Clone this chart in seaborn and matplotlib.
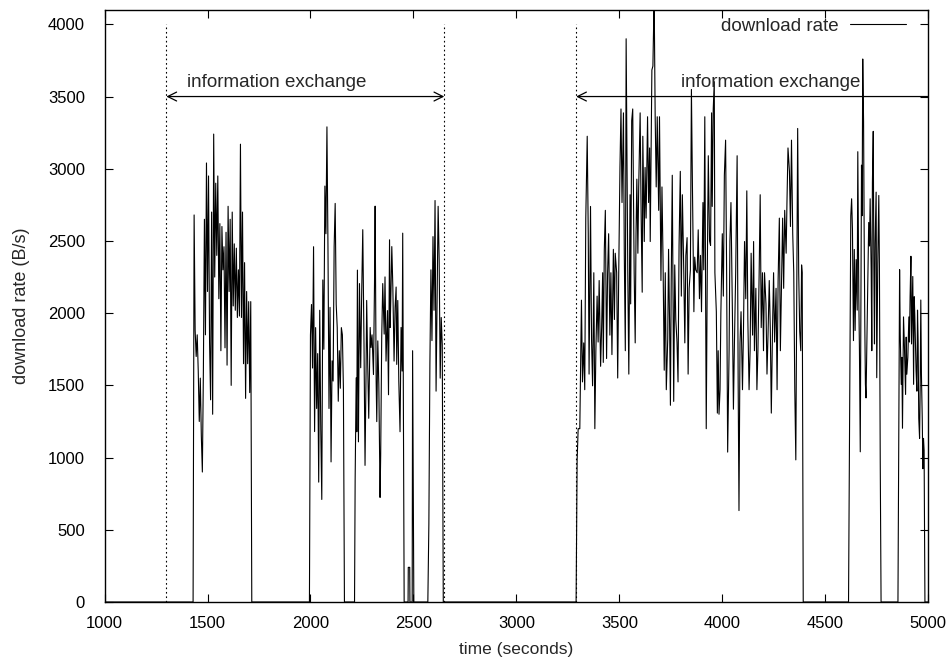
import numpy as np
import pandas as pd
import matplotlib
matplotlib.use("Agg")
import matplotlib.pyplot as plt
import seaborn as sns

# ---------------- data ----------------
idle_t = [1000, 1430]
idle_v = [0, 0]

seg_a_t = [1435, 1440, 1445, 1450, 1455, 1460, 1465, 1470, 1475, 1480, 1485, 1490, 1495,
           1500, 1505, 1510, 1515, 1520, 1525, 1530, 1535, 1540, 1545, 1550, 1555, 1560,
           1565, 1570, 1575, 1580, 1585, 1590, 1595, 1600, 1605, 1610, 1615, 1620, 1625,
           1630, 1635, 1640, 1645, 1650, 1655, 1660, 1665, 1670, 1675, 1680, 1685, 1690,
           1695, 1700, 1705, 1710, 1715]
seg_a_v = [2680, 1880, 1700, 1850, 1600, 1250, 1550, 1150, 900, 1600, 2650, 1850, 3040,
           2150, 2950, 1800, 1400, 2700, 1300, 3240, 2250, 2900, 2400, 2950, 2100, 2620,
           1740, 2600, 2300, 2460, 1760, 2560, 1640, 2740, 2150, 2650, 1500, 2700, 2050,
           2480, 2020, 2450, 1970, 2300, 1980, 3170, 1970, 2700, 1650, 2350, 1410, 2150,
           1650, 2080, 1450, 2080, 0]

seg_b_t = [1995, 2000, 2005, 2010, 2015, 2020, 2025, 2030, 2035, 2040, 2045, 2050, 2055,
           2060, 2065, 2070, 2075, 2080, 2085, 2090, 2095, 2100, 2105, 2110, 2115, 2120,
           2125, 2130, 2135, 2140, 2145, 2150, 2155, 2160, 2165]
seg_b_v = [0, 1850, 2060, 1620, 2460, 1180, 1900, 1340, 1720, 830, 2020, 1200, 710,
           2230, 1750, 2880, 2550, 3290, 2460, 1340, 2040, 970, 1670, 1530, 2460, 2760,
           2060, 1900, 1390, 1740, 1480, 1900, 1850, 1480, 0]

seg_c_t = [2214, 2217, 2222, 2225, 2228, 2233, 2238, 2244, 2249, 2254, 2260, 2265, 2270,
           2273, 2278, 2283, 2290, 2294, 2299, 2306, 2311, 2314, 2319, 2322, 2327, 2332,
           2338, 2341, 2346, 2351, 2358, 2362, 2367, 2374, 2379, 2384, 2387, 2390, 2395,
           2400, 2406, 2411, 2416, 2419, 2424, 2429, 2435, 2440, 2445, 2448, 2455,
           2474, 2475, 2482, 2483, 2494, 2496, 2502]
seg_c_v = [0, 850, 1552, 1179, 2298, 1109, 2205, 1622, 2158, 2578, 1785, 946, 1599,
           2088, 1645, 1272, 1901, 1762, 1850, 1575, 2205, 2741, 1529, 1249, 1808, 1505,
           724, 1016, 1831, 2205, 1855, 2251, 1668, 2018, 1435, 2508, 1901, 2088, 2461,
           2181, 1668, 2041, 2181, 1645, 2088, 1529, 1179, 1901, 1599, 2554, 0,
           0, 240, 240, 0, 0, 1740, 0]

seg_d_t = [2570, 2575, 2580, 2585, 2590, 2595, 2600, 2605, 2610, 2615, 2620, 2625, 2630,
           2635, 2640, 2645]
seg_d_v = [0, 540, 1650, 2300, 1810, 2530, 2020, 2780, 1460, 2110, 2740, 2370, 1550,
           1970, 1780, 0]

seg_e_t = [3290, 3295, 3300, 3308, 3316, 3321, 3327, 3332, 3337, 3344, 3349, 3353, 3360,
           3365, 3370, 3376, 3381, 3386, 3392, 3397, 3402, 3409, 3414, 3419, 3422, 3427,
           3432, 3438, 3443, 3448, 3454, 3459, 3464, 3471, 3476, 3480, 3487, 3492, 3497,
           3503, 3508, 3513, 3520, 3524, 3529, 3533, 3536, 3541, 3546, 3552, 3555, 3560,
           3565, 3572, 3577, 3581, 3585, 3590, 3594, 3601, 3606, 3611, 3614, 3621, 3625,
           3630, 3637, 3642, 3647, 3650, 3658, 3663, 3669, 3674, 3679, 3684, 3691, 3695,
           3702, 3707, 3712, 3718, 3723, 3728, 3735, 3739, 3744, 3748, 3752, 3757, 3764,
           3769, 3774, 3780, 3785, 3790, 3796, 3801, 3806, 3813, 3818, 3823, 3829, 3834,
           3839, 3845, 3850, 3855, 3862, 3866, 3871, 3878, 3883, 3889, 3894, 3899, 3906,
           3910, 3915, 3922, 3927, 3932, 3938, 3943, 3948, 3951, 3956, 3961, 3964, 3971,
           3976, 3980, 3984, 3989, 3993, 4000, 4005, 4010, 4016, 4021, 4026, 4033, 4037,
           4042, 4049, 4054, 4059, 4065, 4072, 4077, 4081, 4086, 4091, 4098, 4103, 4108,
           4114, 4119, 4124, 4130, 4135, 4140, 4147, 4152, 4156, 4163, 4168, 4173, 4179,
           4184, 4189, 4195, 4200, 4205, 4212, 4217, 4222, 4228, 4233, 4238, 4244, 4249,
           4254, 4261, 4266, 4271, 4277, 4282, 4287, 4293, 4298, 4303, 4310, 4314, 4319,
           4326, 4331, 4336, 4342, 4347, 4352, 4357, 4362, 4366, 4371, 4376, 4381, 4385,
           4388, 4393]
seg_e_v = [0, 980, 1200, 1200, 2090, 1524, 1794, 1470, 2658, 3225, 2550, 1578, 2739,
           1821, 1497, 2280, 1200, 1740, 2118, 1800, 2226, 1632, 1901, 2280, 1659, 2442,
           2712, 1686, 2280, 2550, 1848, 2280, 1713, 2442, 1956, 2415, 2280, 1551, 2280,
           3009, 3414, 2766, 3387, 2415, 1740, 3900, 3306, 2280, 1578, 2820, 2064, 3333,
           3414, 2280, 1794, 2550, 2928, 2415, 2874, 3387, 2658, 2145, 3225, 2496, 3009,
           2658, 3360, 2766, 3144, 2496, 3684, 3711, 4200, 3360, 2874, 3360, 2712, 3360,
           2226, 2874, 2388, 1605, 2280, 1470, 1821, 2442, 1929, 1362, 2226, 2955, 1389,
           2334, 1956, 1800, 1524, 2469, 2982, 2118, 2820, 2280, 1794, 2400, 2523, 1578,
           2172, 2300, 3549, 2874, 2010, 2388, 2300, 2280, 2577, 2100, 2400, 2010, 2766,
           2300, 3360, 1200, 2280, 3090, 2500, 2469, 3387, 2739, 3414, 3603, 2280, 2010,
           1308, 1740, 1300, 1470, 2000, 2550, 2118, 2955, 3198, 2280, 1038, 1740, 2500,
           2766, 2010, 1335, 1800, 2280, 3090, 1524, 633, 1794, 2010, 1470, 1900, 2496,
           2100, 2847, 1956, 1470, 1740, 2415, 1848, 2496, 1740, 2172, 1470, 1740, 2280,
           2820, 1900, 2280, 1740, 2280, 2064, 1578, 1850, 2226, 1900, 1308, 1900, 2280,
           1800, 2172, 1470, 2226, 2658, 1740, 2172, 2658, 2172, 2712, 2415, 2766, 3144,
           2982, 2600, 3198, 2550, 2280, 1470, 984, 2226, 3279, 2280, 1875, 1740, 2334,
           2280, 0]

seg_f_t = [4613, 4624, 4628, 4632, 4637, 4641, 4645, 4650, 4655, 4658, 4663, 4666, 4670,
           4673, 4676, 4679, 4682, 4686, 4689, 4692, 4695, 4698, 4702, 4707, 4711, 4715,
           4718, 4723, 4726, 4729, 4733, 4736, 4739, 4742, 4747, 4750, 4755, 4760, 4763,
           4767, 4771]
seg_f_v = [0, 2675, 2792, 2581, 1810, 2441, 1880, 2371, 2021, 3118, 2091, 1740, 1040,
           2091, 3025, 2675, 3760, 3329, 2535, 1927, 1507, 1413, 1787, 2207, 2628, 2465,
           2792, 2301, 1740, 2908, 3259, 2324, 1787, 2488, 2838, 1553, 2348, 2815, 2324,
           970, 0]

seg_g_t = [4853, 4861, 4864, 4869, 4872, 4875, 4880, 4885, 4890, 4893, 4896, 4901, 4906,
           4909, 4912, 4916, 4919, 4922, 4925, 4929, 4932, 4935, 4938, 4941, 4945, 4948,
           4951, 4954, 4958, 4961, 4964, 4967, 4971, 4974, 4977, 4980, 4984, 5000]
seg_g_v = [0, 2301, 1857, 1507, 1694, 1203, 1974, 1740, 1437, 1834, 1577, 1694, 1974,
           1800, 2114, 2394, 1787, 2021, 2254, 1507, 2114, 1974, 1800, 1600, 1460, 2021,
           1800, 1273, 1133, 1500, 2091, 1577, 1273, 923, 1133, 1050, 0, 0]

# annotation values
exchange_1 = (1300, 2650)
exchange_2 = (3290, 5000)
arrow_level = 3500
label_level = 3600
x_ticks = list(range(1000, 5001, 500))
y_ticks = list(range(0, 4001, 500))

# ---------------- figure ----------------
sns.set_style("ticks")
plt.rcParams["font.family"] = ["Liberation Sans", "DejaVu Sans"]
plt.rcParams["xtick.direction"] = "in"
plt.rcParams["ytick.direction"] = "in"

times = idle_t + seg_a_t + seg_b_t + seg_c_t + seg_d_t + seg_e_t + seg_f_t + seg_g_t
rates = idle_v + seg_a_v + seg_b_v + seg_c_v + seg_d_v + seg_e_v + seg_f_v + seg_g_v
df = pd.DataFrame({"time": times, "rate": rates})

fig = plt.figure(figsize=(9.53, 6.59), dpi=100)
ax = fig.add_axes([0.1097, 0.0865, 0.8643, 0.8985])

sns.lineplot(data=df, x="time", y="rate", estimator=None, sort=False,
             color="black", linewidth=0.8, ax=ax, label="download rate")

ax.set_xlim(1000, 5000)
ax.set_ylim(0, 4100)
ax.set_xticks(x_ticks)
ax.set_yticks(y_ticks)
ax.tick_params(axis="both", which="both", direction="in", length=6, width=0.8,
               top=True, right=True, labelsize=12, colors="black")
ax.tick_params(axis="y", pad=14)
ax.tick_params(axis="x", pad=10)
for sp in ax.spines.values():
    sp.set_linewidth(1.0)
    sp.set_color("black")
    sp.set_visible(True)

ax.set_xlabel("time (seconds)", fontsize=12.5, labelpad=8)
ax.set_ylabel("download rate (B/s)", fontsize=13, labelpad=13)

# dotted phase boundaries
for xv in [exchange_1[0], exchange_1[1], exchange_2[0]]:
    ax.plot([xv, xv], [0, 4000], linestyle=(0, (1.5, 2.5)), color="black", linewidth=0.8)

# arrows
ax.annotate("", xy=(exchange_1[0], arrow_level), xytext=(exchange_1[1], arrow_level),
            arrowprops=dict(arrowstyle="<->", color="black", lw=0.9,
                            shrinkA=0, shrinkB=0, mutation_scale=16))
ax.annotate("", xy=(exchange_2[0], arrow_level), xytext=(exchange_2[1], arrow_level),
            arrowprops=dict(arrowstyle="->", color="black", lw=0.9,
                            shrinkA=0, shrinkB=0, mutation_scale=16))
ax.text(1400, label_level, "information exchange", fontsize=13.5, ha="left", va="center")
ax.text(3800, label_level, "information exchange", fontsize=13.5, ha="left", va="center")

leg = ax.legend(loc="upper right", bbox_to_anchor=(0.987, 1.006), frameon=False,
                fontsize=13.5, markerfirst=False, handlelength=3.0,
                borderaxespad=0.2, handletextpad=0.6)

fig.savefig("out.png", dpi=100)
